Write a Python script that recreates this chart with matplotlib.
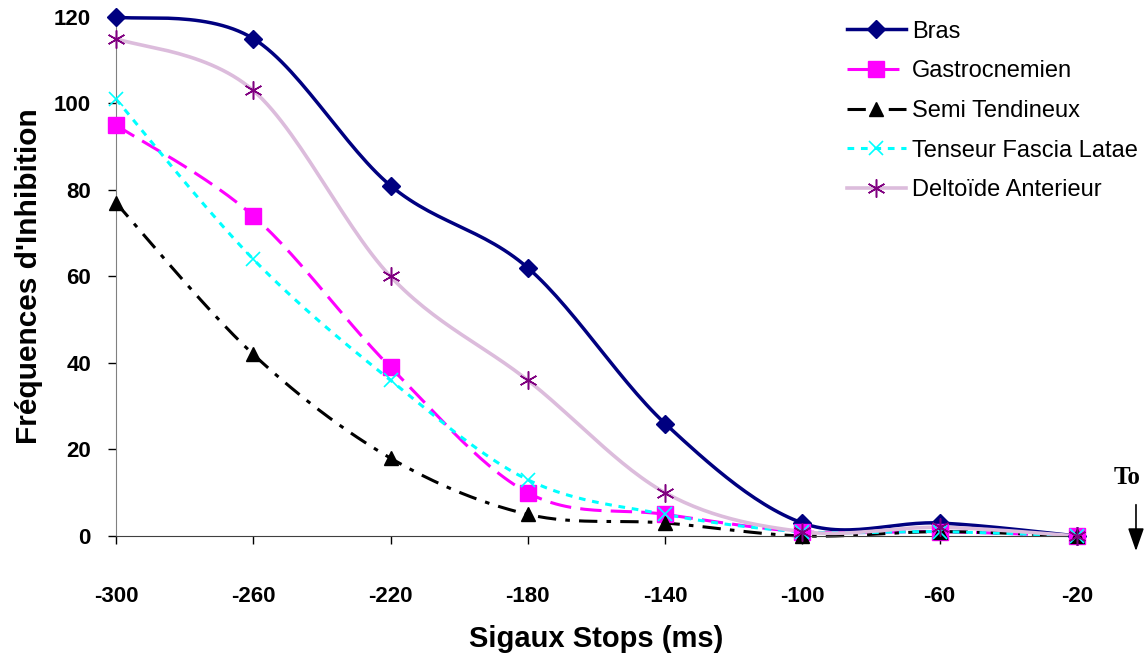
import numpy as np
import matplotlib.pyplot as plt
from matplotlib.patches import FancyArrowPatch

stops = [-300, -260, -220, -180, -140, -100, -60, -20]
bras = [120, 115, 81, 62, 26, 3, 3, 0]
gastro = [95, 74, 39, 10, 5, 1, 1, 0]
semi = [77, 42, 18, 5, 3, 0, 1, 0]
tenseur = [101, 64, 36, 13, 5, 1, 1, 0]
deltoide = [115, 103, 60, 36, 10, 1, 2, 0]


def smooth(x, y, n=30):
    # Excel-like smoothed line (cardinal spline through the points)
    x = np.asarray(x, float)
    y = np.asarray(y, float)
    px = np.concatenate([[x[0]], x, [x[-1]]])
    py = np.concatenate([[y[0]], y, [y[-1]]])
    xs, ys = [], []
    t = np.linspace(0, 1, n)
    for i in range(1, len(px) - 2):
        p0, p1, p2, p3 = [np.array([px[j], py[j]]) for j in (i - 1, i, i + 1, i + 2)]
        c1 = p1 + (p2 - p0) / 6
        c2 = p2 - (p3 - p1) / 6
        pts = ((1 - t) ** 3)[:, None] * p1 + (3 * (1 - t) ** 2 * t)[:, None] * c1 \
            + (3 * (1 - t) * t ** 2)[:, None] * c2 + (t ** 3)[:, None] * p2
        xs.extend(pts[:, 0])
        ys.extend(pts[:, 1])
    return np.array(xs), np.array(ys)


plt.rcParams['font.family'] = 'Liberation Sans'
plt.rcParams['axes.unicode_minus'] = False
fig = plt.figure(figsize=(11.47, 6.57), dpi=100)
ax = fig.add_axes([0.1011, 0.1842, 0.8378, 0.79])

series = [
    ('Bras', bras, dict(color='#000080', ls='-', lw=2.5), dict(marker='D', ms=9, mfc='#000080', mec='#000080')),
    ('Gastrocnemien', gastro, dict(color='#ff00ff', ls=(0, (7, 3)), lw=2.2), dict(marker='s', ms=11, mfc='#ff00ff', mec='#ff00ff')),
    ('Semi Tendineux', semi, dict(color='black', ls=(0, (6, 3, 1.5, 3)), lw=2.2), dict(marker='^', ms=10, mfc='black', mec='black')),
    ('Tenseur Fascia Latae', tenseur, dict(color='#00ffff', ls=(0, (2.2, 2.2)), lw=2.2), dict(marker='x', ms=10, mew=1.2, mec='#00ffff')),
    ('Deltoïde Anterieur', deltoide, dict(color='#dcbcdc', ls='-', lw=2.6), dict(marker=(6, 2, 0), ms=13, mew=1.1, mec='#800080')),
]

for name, vals, lstyle, mstyle in series:
    sx, sy = smooth(stops, vals)
    ax.plot(sx, sy, clip_on=False, zorder=2, **lstyle)
    ax.plot(stops, vals, ls='none', clip_on=False, zorder=3, **mstyle)
    # legend proxy
    ax.plot([], [], label=name, **lstyle, **mstyle)

ax.set_xlim(-300, -20)
ax.set_ylim(0, 120)
ax.set_xticks(stops)
ax.set_yticks(range(0, 121, 20))
for s in ['top', 'right']:
    ax.spines[s].set_visible(False)
ax.spines['left'].set_color('#808080')
ax.spines['bottom'].set_color('#404040')
ax.tick_params(axis='both', direction='out', length=6, width=1, labelsize=16)
ax.tick_params(axis='y', pad=12)
ax.tick_params(axis='x', pad=30)
for lab in ax.get_xticklabels() + ax.get_yticklabels():
    lab.set_fontweight('bold')

ax.set_xlabel('Sigaux Stops (ms)', fontsize=21, fontweight='bold', labelpad=13)
ax.set_ylabel("Fréquences d'Inhibition", fontsize=21.5, fontweight='bold', labelpad=8)

leg = ax.legend(loc='upper left', bbox_to_anchor=(0.7607, 0.993), frameon=False,
                borderpad=0, borderaxespad=0,
                fontsize=17, handlelength=2.5, labelspacing=0.75, handletextpad=0.25)

fig.text(0.9826, 0.2725, 'To', family='Liberation Serif', fontweight='bold', fontsize=18,
         ha='center', va='center')
fig.patches.append(FancyArrowPatch(
    (0.9904, 0.236), (0.9904, 0.157), transform=fig.transFigure,
    arrowstyle='-|>,head_length=1.0,head_width=0.35', color='black', lw=1.2, mutation_scale=14))

fig.savefig('out.png', dpi=100)
